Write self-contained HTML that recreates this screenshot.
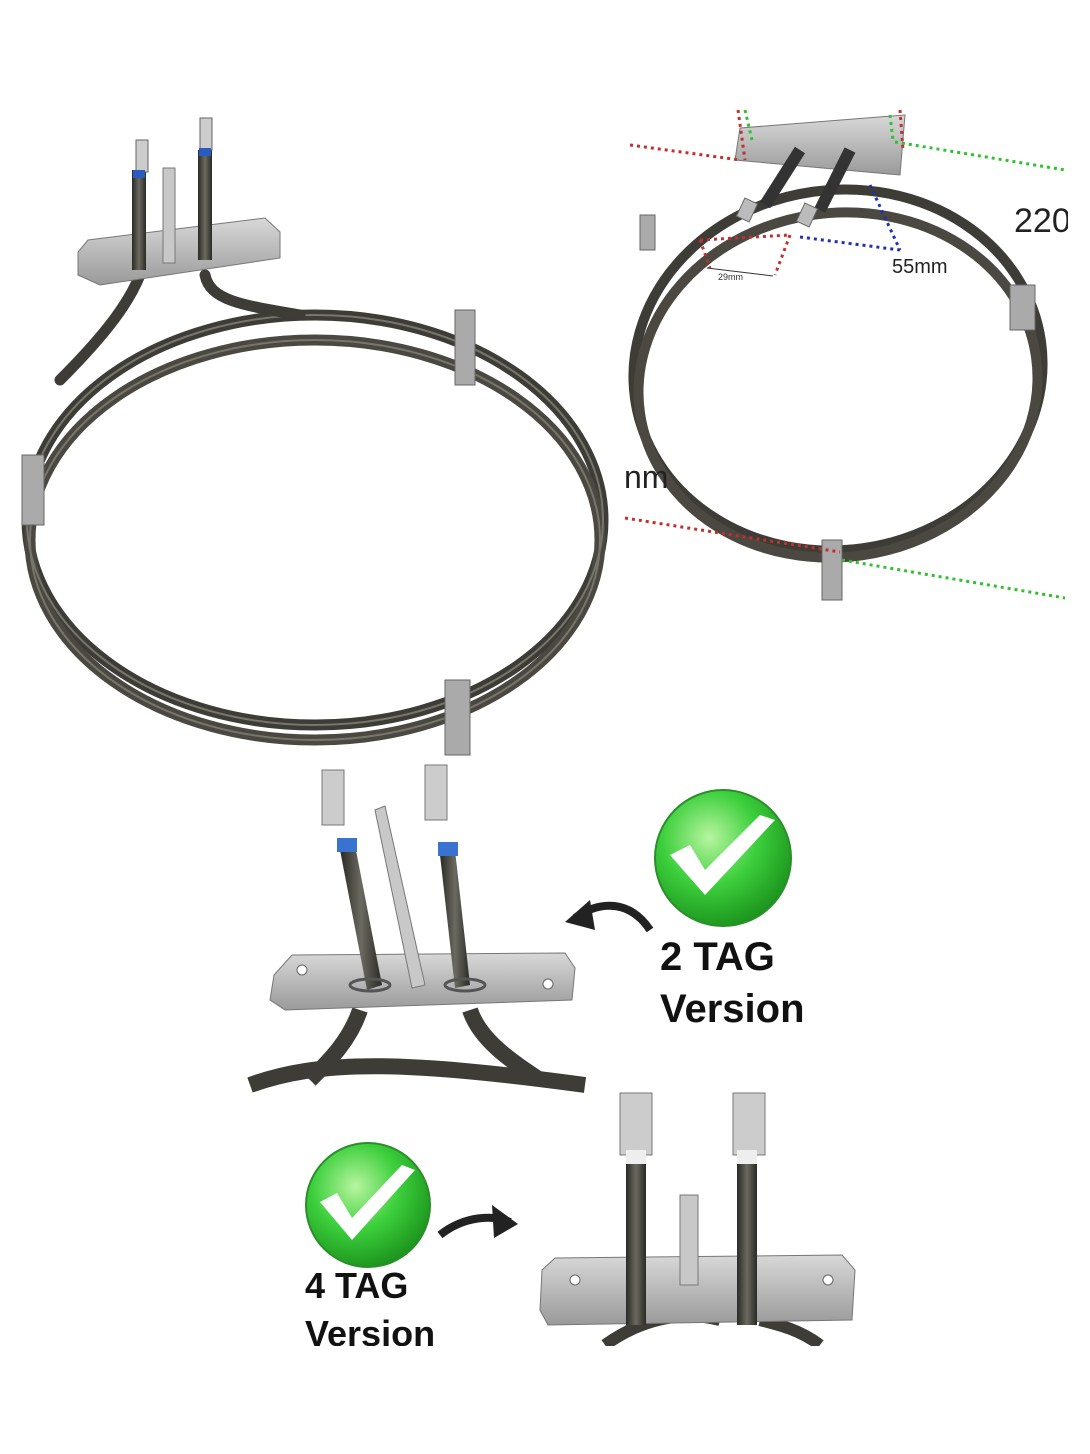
<!DOCTYPE html>
<html><head><meta charset="utf-8"><style>
html,body{margin:0;padding:0;background:#fff;}
svg{display:block}
</style></head><body>
<svg width="1090" height="1454" viewBox="0 0 1090 1454" xmlns="http://www.w3.org/2000/svg">
<defs>
<radialGradient id="g" cx="40%" cy="35%" r="70%"><stop offset="0" stop-color="#b8f5a0"/><stop offset="0.5" stop-color="#3ccf3c"/><stop offset="1" stop-color="#1a8f1a"/></radialGradient>
<linearGradient id="pl" x1="0" y1="0" x2="0" y2="1"><stop offset="0" stop-color="#d8d8d8"/><stop offset="1" stop-color="#9a9a9a"/></linearGradient>
<linearGradient id="tb" x1="0" y1="0" x2="1" y2="0"><stop offset="0" stop-color="#2a2a26"/><stop offset="0.5" stop-color="#6a6a60"/><stop offset="1" stop-color="#2a2a26"/></linearGradient>
</defs>
<rect width="1090" height="1454" fill="#fff"/>

<!-- Left big ring -->
<g fill="none" stroke-linecap="round">
<ellipse cx="315" cy="520" rx="288" ry="205" stroke="#3d3c36" stroke-width="11"/>
<ellipse cx="315" cy="540" rx="285" ry="200" stroke="#4a4840" stroke-width="11"/>
<ellipse cx="315" cy="520" rx="288" ry="205" stroke="#77766c" stroke-width="2"/>
<ellipse cx="315" cy="540" rx="285" ry="200" stroke="#77766c" stroke-width="2"/>
<path d="M140 275 C130 300 110 330 60 380" stroke="#3d3c36" stroke-width="11"/>
<path d="M205 275 C210 300 240 305 300 315" stroke="#3d3c36" stroke-width="11"/>
</g>
<rect x="455" y="310" width="20" height="75" fill="#aaa" stroke="#666"/>
<rect x="22" y="455" width="22" height="70" fill="#aaa" stroke="#666"/>
<rect x="445" y="680" width="25" height="75" fill="#aaa" stroke="#666"/>
<polygon points="88,240 265,218 280,232 280,258 100,285 78,275 78,252" fill="url(#pl)" stroke="#777"/>
<rect x="132" y="170" width="14" height="100" fill="url(#tb)"/>
<rect x="198" y="150" width="14" height="110" fill="url(#tb)"/>
<rect x="163" y="168" width="12" height="95" fill="#c8c8c8" stroke="#777"/>
<rect x="136" y="140" width="12" height="32" fill="#ccc" stroke="#666"/>
<rect x="200" y="118" width="12" height="32" fill="#ccc" stroke="#666"/>
<rect x="133" y="170" width="12" height="8" fill="#2a5bc0"/>
<rect x="199" y="148" width="12" height="8" fill="#2a5bc0"/>

<!-- Top right ring -->
<g fill="none">
<ellipse cx="838" cy="370" rx="205" ry="180" stroke="#3d3c36" stroke-width="10" transform="rotate(-8 838 370)"/>
<ellipse cx="838" cy="385" rx="200" ry="172" stroke="#4a4840" stroke-width="10" transform="rotate(-8 838 385)"/>
</g>
<polygon points="740,128 905,115 900,175 735,160" fill="url(#pl)" stroke="#777"/>
<line x1="800" y1="150" x2="765" y2="205" stroke="#333" stroke-width="12"/>
<line x1="850" y1="150" x2="820" y2="210" stroke="#333" stroke-width="12"/>
<rect x="740" y="200" width="14" height="20" fill="#bbb" stroke="#666" transform="rotate(25 747 210)"/>
<rect x="800" y="205" width="14" height="20" fill="#bbb" stroke="#666" transform="rotate(25 807 215)"/>
<rect x="822" y="540" width="20" height="60" fill="#aaa" stroke="#666"/>
<rect x="1010" y="285" width="25" height="45" fill="#aaa" stroke="#666"/>
<rect x="640" y="215" width="15" height="35" fill="#aaa" stroke="#666"/>
<g fill="none" stroke-width="3" stroke-dasharray="3 4">
<line x1="630" y1="145" x2="740" y2="160" stroke="#c03030"/>
<line x1="738" y1="110" x2="745" y2="160" stroke="#c03030"/>
<line x1="900" y1="110" x2="903" y2="150" stroke="#c03030"/>
<line x1="745" y1="110" x2="752" y2="140" stroke="#30c030"/>
<line x1="890" y1="115" x2="893" y2="140" stroke="#30c030"/>
<line x1="895" y1="142" x2="1065" y2="170" stroke="#30c030"/>
<line x1="700" y1="240" x2="790" y2="235" stroke="#c03030"/>
<line x1="700" y1="240" x2="710" y2="268" stroke="#c03030"/>
<line x1="790" y1="235" x2="775" y2="275" stroke="#c03030"/>
<line x1="800" y1="237" x2="900" y2="250" stroke="#2030b0"/>
<line x1="870" y1="185" x2="900" y2="250" stroke="#2030b0"/>
<line x1="625" y1="518" x2="840" y2="552" stroke="#c03030"/>
<line x1="842" y1="560" x2="1065" y2="598" stroke="#30c030"/>
</g>
<line x1="707" y1="268" x2="773" y2="276" stroke="#333" stroke-width="1"/>
<text x="718" y="280" font-family="Liberation Sans, sans-serif" font-size="9" fill="#333">29mm</text>
<text x="892" y="273" font-family="Liberation Sans, sans-serif" font-size="20" fill="#222">55mm</text>
<text x="1014" y="232" font-family="Liberation Sans, sans-serif" font-size="34" fill="#222">220</text>
<text x="624" y="488" font-family="Liberation Sans, sans-serif" font-size="32" fill="#222">nm</text>
<rect x="1068" y="100" width="22" height="520" fill="#fff"/>

<!-- middle photo -->
<rect x="250" y="765" width="335" height="325" fill="#fff"/>
<path d="M250 1085 C320 1060 400 1060 585 1085" fill="none" stroke="#3d3c36" stroke-width="16"/>
<path d="M360 1010 C350 1040 330 1060 310 1080" fill="none" stroke="#3d3c36" stroke-width="16"/>
<path d="M470 1010 C480 1040 510 1060 540 1080" fill="none" stroke="#3d3c36" stroke-width="16"/>
<polygon points="292,955 565,953 575,968 572,1000 285,1010 270,1000 274,975" fill="url(#pl)" stroke="#777"/>
<circle cx="302" cy="970" r="5" fill="#fff" stroke="#666"/><circle cx="548" cy="984" r="5" fill="#fff" stroke="#666"/>
<polygon points="340,850 355,845 382,985 367,990" fill="url(#tb)"/>
<polygon points="440,855 455,850 470,985 455,988" fill="url(#tb)"/>
<polygon points="375,810 385,806 425,985 412,988" fill="#c8c8c8" stroke="#777"/>
<rect x="322" y="770" width="22" height="55" fill="#ccc" stroke="#777"/>
<rect x="425" y="765" width="22" height="55" fill="#ccc" stroke="#777"/>
<rect x="337" y="838" width="20" height="14" fill="#3a72d0"/>
<rect x="438" y="842" width="20" height="14" fill="#3a72d0"/>
<ellipse cx="370" cy="985" rx="20" ry="6" fill="none" stroke="#555" stroke-width="3"/>
<ellipse cx="465" cy="985" rx="20" ry="6" fill="none" stroke="#555" stroke-width="3"/>
<path d="M650 930 C630 900 600 900 575 918" fill="none" stroke="#222" stroke-width="8"/>
<polygon points="565,922 590,900 595,930" fill="#222"/>
<circle cx="723" cy="858" r="68" fill="url(#g)" stroke="#2a8f2a" stroke-width="2"/>
<path d="M670 855 L705 895 L775 820 L760 815 L705 870 L690 845 Z" fill="#fff"/>
<text x="660" y="970" font-family="Liberation Sans, sans-serif" font-weight="bold" font-size="40" fill="#111">2 TAG</text>
<text x="660" y="1022" font-family="Liberation Sans, sans-serif" font-weight="bold" font-size="40" fill="#111">Version</text>

<!-- bottom right photo -->
<path d="M605 1345 C640 1320 680 1310 720 1320 M820 1345 C800 1330 780 1325 760 1320" fill="none" stroke="#3d3c36" stroke-width="12"/>
<polygon points="555,1258 842,1255 855,1270 852,1320 548,1325 540,1310 542,1270" fill="url(#pl)" stroke="#777"/>
<circle cx="575" cy="1280" r="5" fill="#fff" stroke="#666"/><circle cx="828" cy="1280" r="5" fill="#fff" stroke="#666"/>
<rect x="626" y="1160" width="20" height="165" fill="url(#tb)"/>
<rect x="737" y="1160" width="20" height="165" fill="url(#tb)"/>
<rect x="680" y="1195" width="18" height="90" fill="#c8c8c8" stroke="#777"/>
<rect x="620" y="1093" width="32" height="62" fill="#ccc" stroke="#777"/>
<rect x="733" y="1093" width="32" height="62" fill="#ccc" stroke="#777"/>
<rect x="626" y="1150" width="20" height="14" fill="#eee"/>
<rect x="737" y="1150" width="20" height="14" fill="#eee"/>
<path d="M440 1235 C465 1215 495 1215 510 1222" fill="none" stroke="#222" stroke-width="8"/>
<polygon points="518,1224 492,1205 494,1238" fill="#222"/>
<circle cx="368" cy="1205" r="62" fill="url(#g)" stroke="#2a8f2a" stroke-width="2"/>
<path d="M320 1202 L352 1240 L415 1170 L402 1165 L352 1218 L337 1193 Z" fill="#fff"/>
<text x="305" y="1298" font-family="Liberation Sans, sans-serif" font-weight="bold" font-size="36" fill="#111">4 TAG</text>
<text x="305" y="1346" font-family="Liberation Sans, sans-serif" font-weight="bold" font-size="36" fill="#111">Version</text>
<rect x="0" y="1346" width="1090" height="108" fill="#fff"/>
</svg>
</body></html>
